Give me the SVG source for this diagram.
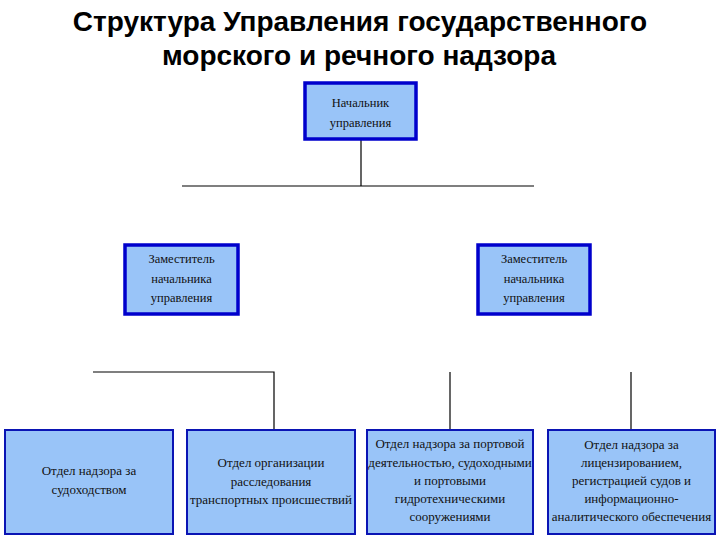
<svg xmlns="http://www.w3.org/2000/svg" width="720" height="540" viewBox="0 0 720 540">
<style>
.title{font-family:"Liberation Sans",Arial,sans-serif;font-weight:bold;font-size:28px;fill:#000;text-anchor:middle}
.box{fill:#99C4F8;stroke:#0A14B4;stroke-width:2}
.boxb{fill:#99C4F8;stroke:#0000CC;stroke-width:3.5}
.t{font-family:"Liberation Serif","Times New Roman",serif;font-size:13px;fill:#111;text-anchor:middle}
.ts{font-family:"Liberation Serif","Times New Roman",serif;font-size:12.5px;fill:#111;text-anchor:middle}
.ln{stroke:#000;stroke-width:1.2;fill:none}
</style>
<rect width="720" height="540" fill="#fff"/>
<text class="title" x="360" y="31">Структура Управления государственного</text>
<text class="title" x="359" y="65">морского и речного надзора</text>
<g id="connectors">
<path class="ln" d="M361 140V186M182 186H534"/>
<path class="ln" d="M93 372H274V430"/>
<path class="ln" d="M450 372V430"/>
<path class="ln" d="M631 372V430"/>
</g>
<g id="chief">
<rect class="boxb" x="305" y="83" width="111" height="56"/>
<text class="ts" x="360.5" y="107">Начальник</text>
<text class="ts" x="360.5" y="127">управления</text>
</g>
<g id="deputy1">
<rect class="boxb" x="125" y="245" width="113" height="69"/>
<text class="ts" x="181.5" y="263">Заместитель</text>
<text class="ts" x="181.5" y="283">начальника</text>
<text class="ts" x="181.5" y="302">управления</text>
</g>
<g id="deputy2">
<rect class="boxb" x="478" y="245" width="112" height="69"/>
<text class="ts" x="534" y="263">Заместитель</text>
<text class="ts" x="534" y="283">начальника</text>
<text class="ts" x="534" y="302">управления</text>
</g>
<g id="dept1">
<rect class="box" x="5" y="430" width="168" height="104"/>
<text class="t" x="89" y="475">Отдел надзора за</text>
<text class="t" x="89" y="494">судоходством</text>
</g>
<g id="dept2">
<rect class="box" x="187" y="430" width="168" height="104"/>
<text class="t" x="271" y="467">Отдел организации</text>
<text class="t" x="271" y="486">расследования</text>
<text class="t" x="271" y="504">транспортных происшествий</text>
</g>
<g id="dept3">
<rect class="box" x="367" y="430" width="166" height="104"/>
<text class="t" x="450" y="448">Отдел надзора за портовой</text>
<text class="t" x="450" y="467">деятельностью, судоходными</text>
<text class="t" x="450" y="485">и портовыми</text>
<text class="t" x="450" y="503">гидротехническими</text>
<text class="t" x="450" y="521">сооружениями</text>
</g>
<g id="dept4">
<rect class="box" x="548" y="430" width="167" height="104"/>
<text class="t" x="631.5" y="449">Отдел надзора за</text>
<text class="t" x="631.5" y="467">лицензированием,</text>
<text class="t" x="631.5" y="485">регистрацией судов и</text>
<text class="t" x="631.5" y="503">информационно-</text>
<text class="t" x="631.5" y="521">аналитического обеспечения</text>
</g>
</svg>
